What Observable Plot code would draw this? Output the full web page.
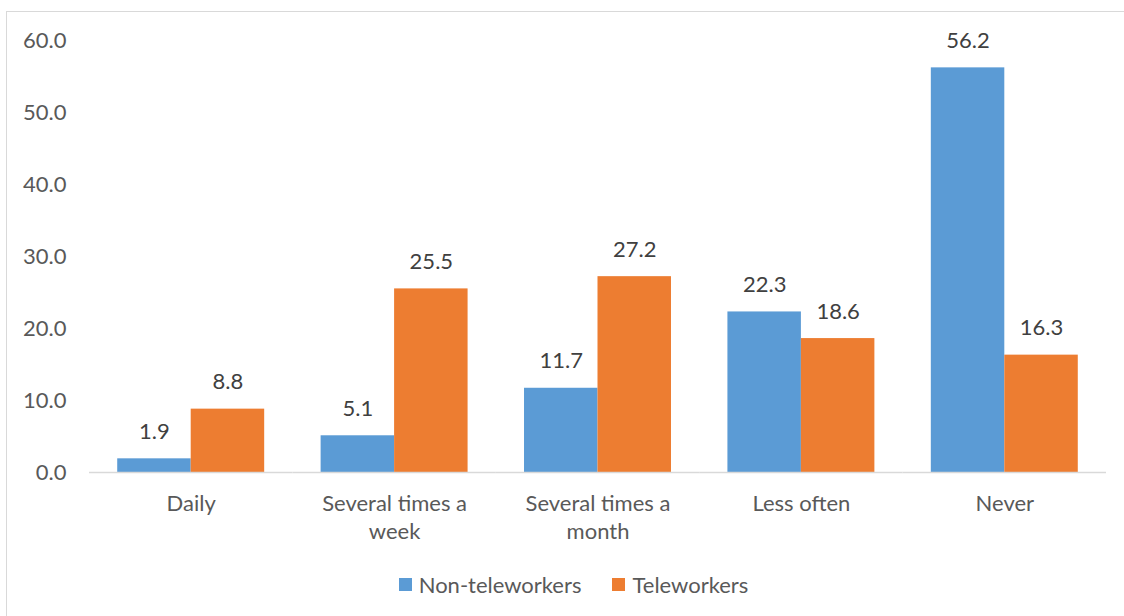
<!DOCTYPE html>
<html>
<head>
<meta charset="utf-8">
<script src="https://cdn.jsdelivr.net/npm/d3@7"></script>
<script src="https://cdn.jsdelivr.net/npm/@observablehq/plot@0.6"></script>
<style>
  html, body { margin: 0; padding: 0; background: #fff; }
  #wrap { position: relative; width: 1124px; height: 616px; overflow: hidden; font-family: Lato, sans-serif; }
  #border { position: absolute; left: 6px; top: 11px; width: 1200px; height: 700px; border: 1.5px solid #d9d9d9; box-sizing: border-box; }
  #chart { position: absolute; left: 0; top: 0; }
  #legend { position: absolute; left: 0; top: 571px; width: 1124px; display: flex; justify-content: center; gap: 31px; font-size: 22px; color: #595959; padding-left: 23px; box-sizing: border-box; }
  .item { display: flex; align-items: center; gap: 7px; }
  .sw { width: 13px; height: 13px; display: inline-block; }
</style>
</head>
<body>
<div id="wrap">
  <div id="border"></div>
  <div id="chart"></div>
  <div id="legend"></div>
</div>
<script>
const categories = ["Daily", "Several times a week", "Several times a month", "Less often", "Never"];
const categoryLabels = ["Daily", "Several times a\nweek", "Several times a\nmonth", "Less often", "Never"];
const series = ["Non-teleworkers", "Teleworkers"];
const nonTeleworkers = [1.9, 5.1, 11.7, 22.3, 56.2];
const teleworkers = [8.8, 25.5, 27.2, 18.6, 16.3];
const colors = ["#5b9bd5", "#ed7d31"];
const yTicks = [0, 10, 20, 30, 40, 50, 60];

const data = [];
categories.forEach((c, i) => {
  data.push({category: c, series: series[0], value: nonTeleworkers[i]});
  data.push({category: c, series: series[1], value: teleworkers[i]});
});
const labelData = categories.map((c, i) => ({category: c, label: categoryLabels[i]}));

const chart = Plot.plot({
  width: 1124,
  height: 560,
  marginLeft: 89,
  marginRight: 18,
  marginTop: 40,
  marginBottom: 88,
  style: {fontFamily: "Lato, sans-serif", fontSize: "22px", color: "#595959", background: "transparent", overflow: "visible"},
  fx: {domain: categories, padding: 0, round: false, axis: null, label: null},
  x: {domain: series, paddingInner: 0, paddingOuter: 0.384, round: false, axis: null},
  y: {domain: [0, 60], ticks: yTicks, tickFormat: d3.format(".1f"), tickSize: 0, tickPadding: 23, label: null},
  color: {domain: series, range: colors},
  marks: [
    Plot.barY(data, {fx: "category", x: "series", y: "value", fill: "series"}),
    Plot.ruleY([0], {stroke: "#d9d9d9", strokeWidth: 1.5}),
    Plot.text(data, {fx: "category", x: "series", y: "value", text: d => d3.format(".1f")(d.value), dy: -27, fill: "#404040"}),
    Plot.text(labelData, {fx: "category", text: "label", frameAnchor: "bottom", lineAnchor: "top", lineHeight: 1.27, dy: 19, fill: "#595959"})
  ]
});
document.getElementById("chart").appendChild(chart);

const legend = document.getElementById("legend");
series.forEach((s, i) => {
  const item = document.createElement("div");
  item.className = "item";
  const sw = document.createElement("span");
  sw.className = "sw";
  sw.style.background = colors[i];
  const t = document.createElement("span");
  t.textContent = s;
  item.appendChild(sw);
  item.appendChild(t);
  legend.appendChild(item);
});
</script>
</body>
</html>
